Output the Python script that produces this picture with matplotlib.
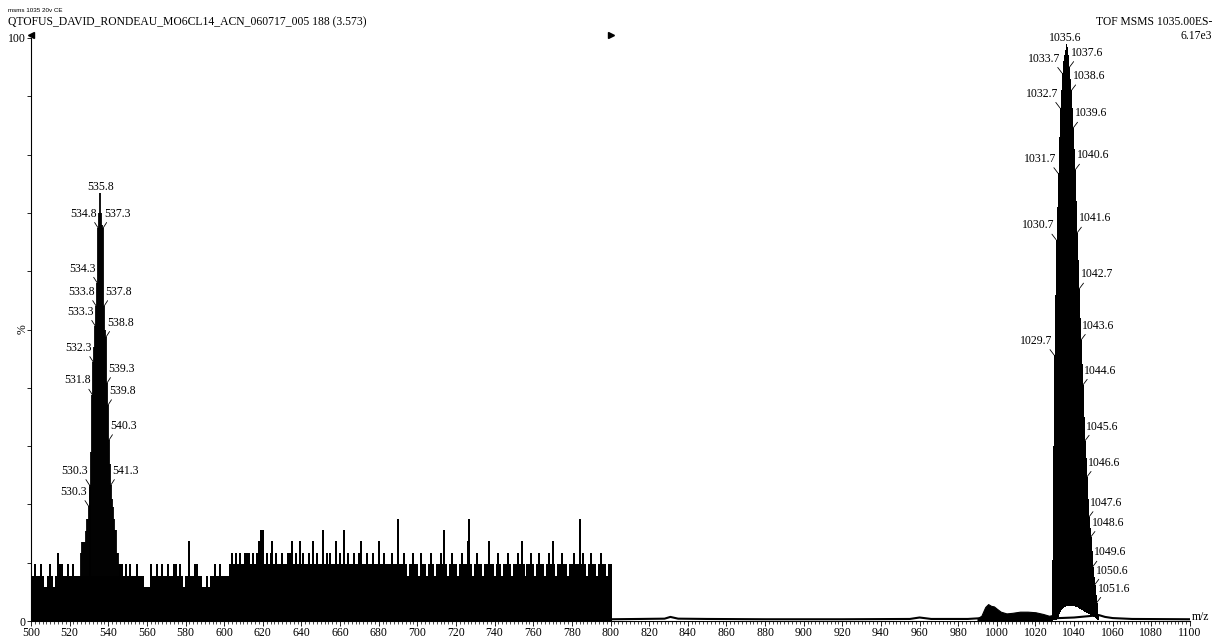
import numpy as np
import matplotlib.pyplot as plt

plt.rcParams['font.family'] = ['Liberation Serif', 'DejaVu Serif']

# magnified part of the spectrum (x120), heights as displayed in %
zoom_range = [500, 800]
zoom_factor = 120
count_pct = 1.95          # one ion-count step of the magnified noise, in displayed %

# noise level (in counts) for every integer m/z from 500 to 800
noise_start = 500
noise_levels = [
    4, 4, 5, 4, 4, 5, 4, 3, 3, 4, 5, 4, 3, 4, 6, 5, 5, 4, 4, 5,   # 500
    4, 4, 5, 4, 4, 4, 4, 4, 4, 4, 4, 4, 4, 4, 4, 4, 4, 4, 4, 4,   # 520
    4, 4, 4, 4, 4, 4, 5, 5, 4, 5, 4, 5, 4, 4, 4, 5, 4, 4, 4, 3,   # 540
    3, 3, 5, 4, 4, 5, 4, 4, 5, 4, 4, 5, 4, 4, 5, 5, 4, 5, 4, 3,   # 560
    4, 4, 7, 4, 4, 5, 5, 4, 4, 3, 3, 4, 3, 4, 4, 5, 4, 4, 5, 4,   # 580
    4, 4, 4, 5, 6, 5, 6, 5, 6, 5, 5, 6, 6, 6, 5, 6, 5, 6, 7, 8,   # 600
    8, 5, 6, 5, 6, 7, 5, 6, 5, 5, 6, 5, 5, 6, 6, 7, 5, 6, 5, 7,   # 620
    5, 6, 5, 5, 6, 5, 7, 5, 6, 5, 5, 8, 5, 6, 5, 6, 5, 5, 7, 5,   # 640
    6, 5, 8, 5, 6, 5, 5, 6, 5, 5, 6, 7, 5, 5, 6, 5, 5, 6, 5, 5,   # 660
    7, 5, 5, 6, 5, 5, 5, 6, 5, 5, 9, 5, 5, 6, 5, 4, 5, 5, 6, 5,   # 680
    5, 4, 6, 5, 5, 4, 5, 6, 5, 4, 5, 5, 6, 5, 8, 5, 4, 5, 6, 5,   # 700
    5, 4, 5, 6, 5, 5, 7, 9, 5, 4, 5, 6, 5, 5, 4, 5, 5, 7, 5, 5,   # 720
    4, 5, 6, 5, 4, 5, 5, 6, 5, 4, 5, 5, 6, 5, 7, 5, 4, 5, 5, 6,   # 740
    5, 4, 5, 6, 5, 5, 4, 5, 6, 5, 7, 5, 4, 5, 5, 6, 5, 5, 4, 5,   # 760
    5, 6, 5, 5, 9, 5, 6, 5, 4, 5, 6, 5, 5, 4, 5, 6, 5, 5, 4, 5,   # 780
    5,
]
base_edges = [500, 608, 800]
base_counts = [3, 4]

# magnified cluster around 535.8
left_mz = [525.8, 526.3, 526.8, 527.3, 527.8, 528.3, 528.8, 529.3, 529.8, 530.3,
           530.8, 531.3, 531.8, 532.3, 532.8, 533.3, 533.8, 534.3, 534.8, 535.3,
           535.8, 536.3, 536.8, 537.3, 537.8, 538.3, 538.8, 539.3, 539.8, 540.3,
           540.8, 541.3, 541.8, 542.3, 542.8, 543.3, 543.8, 544.3, 544.8, 545.3]
left_h = [11.7, 13.6, 13.6, 13.6, 13.6, 15.5, 17.5, 17.5, 19.7, 23.3,
          23.0, 29.0, 38.8, 44.4, 47.0, 50.6, 54.0, 58.0, 67.4, 70.0,
          73.4, 70.0, 68.0, 67.4, 54.0, 50.0, 48.7, 40.8, 37.0, 31.0,
          27.0, 23.3, 21.0, 19.5, 17.5, 15.6, 15.6, 11.7, 11.7, 9.8]
left_label_mz = [535.8, 534.8, 537.3, 534.3, 533.8, 537.8, 533.3, 538.8, 532.3,
                 539.3, 531.8, 539.8, 540.3, 530.3, 541.3, 529.8]
left_label_txt = ['535.8', '534.8', '537.3', '534.3', '533.8', '537.8', '533.3', '538.8', '532.3',
                  '539.3', '531.8', '539.8', '540.3', '530.3', '541.3', '530.3']

# precursor cluster around 1035.6 (not magnified)
right_mz = [1028.6, 1029.2, 1029.7, 1030.2, 1030.7, 1031.2, 1031.7, 1032.2, 1032.7, 1033.2,
            1033.7, 1034.2, 1034.7, 1035.1, 1035.6, 1036.1, 1036.6, 1037.1, 1037.6, 1038.1,
            1038.6, 1039.1, 1039.6, 1040.1, 1040.6, 1041.1, 1041.6, 1042.2, 1042.7, 1043.1,
            1043.6, 1044.1, 1044.6, 1045.1, 1045.6, 1046.1, 1046.6, 1047.1, 1047.6, 1048.1,
            1048.6, 1049.1, 1049.6, 1050.1, 1050.6, 1051.1, 1051.6, 1052.1, 1052.6]
right_h = [10.5, 30.0, 45.6, 56.0, 65.4, 71.0, 76.8, 83.0, 88.0, 91.0,
           94.0, 96.0, 97.0, 98.0, 99.0, 98.5, 97.0, 96.0, 95.0, 93.0,
           91.0, 88.0, 84.6, 81.0, 77.4, 72.0, 66.6, 62.0, 57.0, 52.0,
           48.2, 44.0, 40.5, 35.0, 30.9, 28.0, 24.7, 21.0, 17.8, 16.0,
           14.4, 12.0, 9.3, 7.5, 6.2, 4.5, 3.1, 2.0, 1.2]
right_floor = [0.4, 0.4, 0.4, 0.4, 0.4, 0.5, 0.8, 1.3, 1.7, 2.0,
               2.2, 2.4, 2.5, 2.6, 2.7, 2.7, 2.8, 2.8, 2.8, 2.8,
               2.8, 2.8, 2.7, 2.7, 2.6, 2.6, 2.5, 2.4, 2.3, 2.2,
               2.1, 2.0, 1.9, 1.8, 1.7, 1.6, 1.5, 1.4, 1.3, 1.2,
               1.1, 1.0, 0.9, 0.8, 0.7, 0.6, 0.5, 0.4, 0.4]
right_label_mz = [1035.6, 1033.7, 1037.6, 1038.6, 1032.7, 1039.6, 1031.7, 1040.6, 1041.6,
                  1030.7, 1042.7, 1043.6, 1029.7, 1044.6, 1045.6, 1046.6, 1047.6, 1048.6,
                  1049.6, 1050.6, 1051.6]

# low hump before the precursor and the flat trace
hump_mz = [990, 992, 994, 995.5, 997, 998.5, 1000, 1002, 1005, 1008, 1012, 1016, 1020, 1024, 1027, 1028.5]
hump_h = [0.5, 0.9, 2.4, 2.9, 2.6, 2.5, 2.1, 1.6, 1.3, 1.4, 1.6, 1.6, 1.5, 1.2, 0.9, 1.0]
trace_mz = [800, 815, 828, 831, 835, 850, 880, 920, 955, 960, 966, 985, 990,
            1028.5, 1040, 1053, 1056, 1060, 1070, 1100]
trace_h = [0.3, 0.35, 0.4, 0.7, 0.4, 0.35, 0.3, 0.3, 0.35, 0.6, 0.35, 0.35, 0.45,
           0.45, 0.6, 1.0, 0.7, 0.5, 0.35, 0.3]

fs = 8.5
fig = plt.figure(figsize=(12.15, 6.37), dpi=100)
ax = fig.add_axes([31 / 1215, 16 / 637, 1159 / 1215, 583 / 637])

# magnified noise
noise_mz = noise_start + np.arange(len(noise_levels))
ax.stairs(np.array(base_counts) * count_pct, base_edges, fill=True, color='k', lw=0)
ax.vlines(noise_mz, 0, np.array(noise_levels) * count_pct, color='k', lw=1.25, antialiased=False)

# magnified cluster
ax.vlines(left_mz, 0, left_h, color='k', lw=1.3)

# flat trace, hump and precursor cluster
ax.plot(trace_mz, trace_h, color='k', lw=1.5)
ax.fill_between(hump_mz, 0, hump_h, color='k', lw=0.8)
ax.vlines(right_mz, right_floor, right_h, color='k', lw=0.5, antialiased=False)


def tag(mz, h, txt, apex):
    if abs(mz - apex) < 0.01:
        ax.annotate(txt, (mz, h), xytext=(0, 4.5), textcoords='offset points',
                    ha='center', va='center', fontsize=fs)
        return
    s = -1 if mz < apex else 1
    ax.annotate(txt, (mz, h), xytext=(s * 1.0, 6), textcoords='offset points',
                ha='right' if s < 0 else 'left', va='bottom', fontsize=fs,
                arrowprops=dict(arrowstyle='-', lw=0.6, color='k', shrinkA=0, shrinkB=0,
                                relpos=(0.82 if s < 0 else 0.18, 0.1)))


for m, t in zip(left_label_mz, left_label_txt):
    tag(m, left_h[left_mz.index(m)], t, 535.8)
for m in right_label_mz:
    tag(m, right_h[right_mz.index(m)], f'{m:.1f}', 1035.6)

# magnification markers
ax.plot([zoom_range[0]], [100.6], marker='<', ms=5, color='k', clip_on=False)
ax.plot([zoom_range[1]], [100.6], marker='>', ms=4, color='k', clip_on=False)
ax.annotate(f'x{zoom_factor}', (zoom_range[0], 100.6), xytext=(3, 0), textcoords='offset points',
            ha='left', va='center', color='red', fontsize=fs + 0.5)

ax.set_xlim(500, 1100)
ax.set_ylim(0, 100)
ax.spines['top'].set_visible(False)
ax.spines['right'].set_visible(False)
ax.spines['left'].set_linewidth(0.8)
ax.spines['bottom'].set_linewidth(0.8)
ax.set_xticks(np.arange(500, 1101, 20))
ax.set_xticks(np.arange(500, 1101, 2), minor=True)
ax.set_yticks([0, 100])
ax.set_yticks(np.arange(0, 101, 10), minor=True)
ax.tick_params(axis='x', which='major', length=3.5, width=0.6, pad=1, labelsize=fs)
ax.tick_params(axis='x', which='minor', length=2, width=0.5)
ax.tick_params(axis='y', which='major', length=3, width=0.6, pad=1, labelsize=fs)
ax.tick_params(axis='y', which='minor', length=3, width=0.6)
ax.text(-0.007, 0.5, '%', transform=ax.transAxes, rotation=90, ha='center', va='center', fontsize=fs)
ax.annotate('m/z', (1, 0), xycoords='axes fraction', xytext=(1, 3), textcoords='offset points',
            ha='left', va='center', fontsize=fs)

fig.text(8 / 1215, 1 - 10 / 637, 'msms 1035 20v CE', fontsize=4.5, va='center',
         family=['Liberation Sans', 'DejaVu Sans'])
fig.text(8 / 1215, 1 - 22 / 637, 'QTOFUS_DAVID_RONDEAU_MO6CL14_ACN_060717_005 188 (3.573)',
         fontsize=8.4, va='center')
fig.text(1212 / 1215, 1 - 22 / 637, 'TOF MSMS 1035.00ES-', fontsize=8.4, va='center', ha='right')
fig.text(1212 / 1215, 1 - 36 / 637, '6.17e3', fontsize=8.4, va='center', ha='right')

fig.savefig('out.png', dpi=100)
